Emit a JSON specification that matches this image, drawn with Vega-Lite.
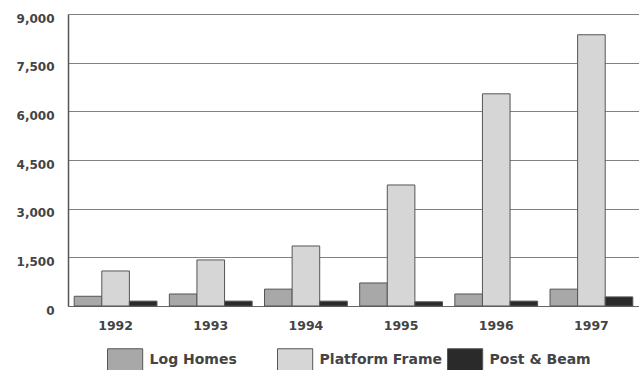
{
  "$schema": "https://vega.github.io/schema/vega-lite/v6.json",
  "width": 571,
  "height": 292,
  "autosize": "none",
  "padding": {"left": 68, "top": 14, "right": 0, "bottom": 64},
  "background": "white",
  "config": {"view": {"stroke": null}, "font": "DejaVu Sans"},
  "data": {
    "values": [
      {"year": "1992", "series": "Log Homes", "value": 300},
      {"year": "1992", "series": "Platform Frame", "value": 1080},
      {"year": "1992", "series": "Post & Beam", "value": 150},
      {"year": "1993", "series": "Log Homes", "value": 370},
      {"year": "1993", "series": "Platform Frame", "value": 1420},
      {"year": "1993", "series": "Post & Beam", "value": 150},
      {"year": "1994", "series": "Log Homes", "value": 520},
      {"year": "1994", "series": "Platform Frame", "value": 1850},
      {"year": "1994", "series": "Post & Beam", "value": 150},
      {"year": "1995", "series": "Log Homes", "value": 710},
      {"year": "1995", "series": "Platform Frame", "value": 3730},
      {"year": "1995", "series": "Post & Beam", "value": 130},
      {"year": "1996", "series": "Log Homes", "value": 370},
      {"year": "1996", "series": "Platform Frame", "value": 6540},
      {"year": "1996", "series": "Post & Beam", "value": 150},
      {"year": "1997", "series": "Log Homes", "value": 520},
      {"year": "1997", "series": "Platform Frame", "value": 8360},
      {"year": "1997", "series": "Post & Beam", "value": 280}
    ]
  },
  "mark": {"type": "bar", "stroke": "#555555", "strokeWidth": 1},
  "encoding": {
    "x": {
      "field": "year",
      "type": "nominal",
      "scale": {"paddingInner": 0.13, "paddingOuter": 0.065},
      "axis": {
        "title": null,
        "labelAngle": 0,
        "labelFont": "DejaVu Sans",
        "labelFontWeight": "bold",
        "labelFontSize": 12.5,
        "labelColor": "#444444",
        "ticks": false,
        "domainColor": "#666666",
        "labelPadding": 13
      }
    },
    "xOffset": {
      "field": "series",
      "type": "nominal",
      "sort": ["Log Homes", "Platform Frame", "Post & Beam"],
      "scale": {"paddingInner": 0, "paddingOuter": 0}
    },
    "y": {
      "field": "value",
      "type": "quantitative",
      "scale": {"domain": [0, 9000]},
      "axis": {
        "title": null,
        "values": [0, 1500, 3000, 4500, 6000, 7500, 9000],
        "format": ",d",
        "grid": true,
        "gridColor": "#808080",
        "gridWidth": 1.2,
        "ticks": false,
        "domainColor": "#555555",
        "domainWidth": 1.5,
        "labelPadding": 14,
        "labelOffset": 4,
        "labelFont": "DejaVu Sans",
        "labelFontWeight": "bold",
        "labelFontSize": 12,
        "labelColor": "#444444"
      }
    },
    "fill": {
      "field": "series",
      "type": "nominal",
      "scale": {
        "domain": ["Log Homes", "Platform Frame", "Post & Beam"],
        "range": ["#a8a8a8", "#d6d6d6", "#2a2a2a"]
      },
      "legend": {
        "title": null,
        "orient": "none",
        "legendX": 45.6,
        "legendY": 334,
        "direction": "horizontal",
        "symbolType": "M-1.6,-1H1.6V1H-1.6Z",
        "symbolSize": 484,
        "symbolStrokeColor": "#555555",
        "symbolStrokeWidth": 1,
        "labelFont": "DejaVu Sans",
        "labelFontSize": 14,
        "labelFontWeight": "bold",
        "labelColor": "#444444",
        "labelOffset": 13,
        "gridAlign": "all",
        "columnPadding": 2,
        "padding": 0
      }
    }
  }
}
